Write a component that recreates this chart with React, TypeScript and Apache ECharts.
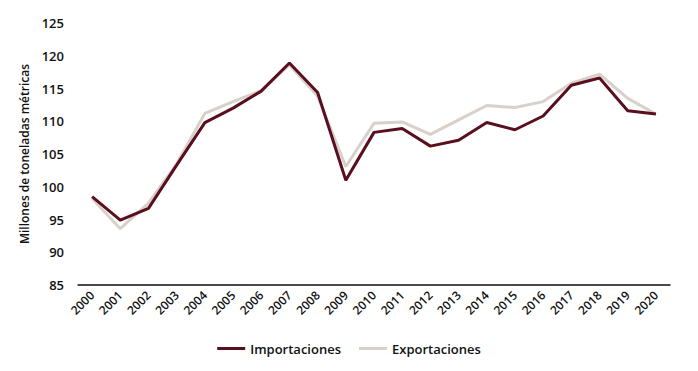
import React, { useEffect, useRef } from "react";
import * as echarts from "echarts";

const years = ["2000","2001","2002","2003","2004","2005","2006","2007","2008","2009","2010","2011","2012","2013","2014","2015","2016","2017","2018","2019","2020"];
const importaciones = [98.5, 94.9, 96.7, 103.3, 109.8, 112.0, 114.6, 118.9, 114.4, 101.0, 108.3, 108.9, 106.2, 107.1, 109.8, 108.7, 110.8, 115.5, 116.6, 111.6, 111.1];
const exportaciones = [98.2, 93.6, 97.5, 103.5, 111.2, 113.0, 114.7, 118.6, 113.8, 103.1, 109.7, 109.9, 108.0, 110.2, 112.4, 112.1, 113.0, 115.8, 117.2, 113.5, 111.1];

const FONT = "Open Sans";

export default function App() {
  const ref = useRef<HTMLDivElement>(null);
  useEffect(() => {
    const chart = echarts.init(ref.current!, undefined, { renderer: "svg" });
    chart.setOption({
      animation: false,
      textStyle: { fontFamily: FONT },
      grid: { left: 78, right: 28, top: 23, bottom: 86 },
      legend: {
        bottom: 11,
        left: "center",
        itemWidth: 28,
        itemHeight: 3,
        itemGap: 18,
        icon: "rect",
        textStyle: { fontFamily: FONT, fontSize: 13, fontWeight: 600, color: "#111" },
        data: ["Importaciones", "Exportaciones"],
      },
      xAxis: {
        type: "category",
        data: years,
        boundaryGap: true,
        axisLine: { show: true, lineStyle: { color: "#111", width: 1.5 } },
        axisTick: { show: false },
        axisLabel: { rotate: 45, fontSize: 12, fontWeight: 600, color: "#111", margin: 8, interval: 0 },
      },
      yAxis: {
        type: "value",
        min: 85,
        max: 125,
        interval: 5,
        name: "Millones de toneladas métricas",
        nameLocation: "middle",
        nameGap: 48,
        nameTextStyle: { fontSize: 12, fontWeight: 600, color: "#111", fontFamily: FONT },
        axisLine: { show: false },
        axisTick: { show: false },
        splitLine: { show: false },
        axisLabel: { fontSize: 13, fontWeight: 600, color: "#111", margin: 14 },
      },
      series: [
        {
          name: "Exportaciones",
          type: "line",
          data: exportaciones,
          symbol: "none",
          lineStyle: { color: "#d8d0cb", width: 3 },
          itemStyle: { color: "#d8d0cb" },
          z: 2,
        },
        {
          name: "Importaciones",
          type: "line",
          data: importaciones,
          symbol: "none",
          lineStyle: { color: "#5a0f1e", width: 3 },
          itemStyle: { color: "#5a0f1e" },
          z: 3,
        },
      ],
    });
    return () => chart.dispose();
  }, []);
  return <div ref={ref} style={{ width: 698, height: 371, position: "absolute", left: 0, top: 0, background: "#fff" }} />;
}
